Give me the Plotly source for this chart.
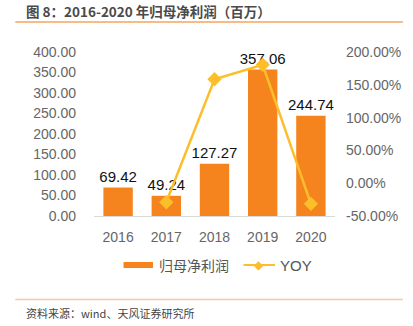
import plotly.graph_objects as go

years = ["2016", "2017", "2018", "2019", "2020"]
profit = [69.42, 49.24, 127.27, 357.06, 244.74]
yoy = [None, -29.07, 158.47, 180.55, -31.46]
profit_labels = ["69.42", "49.24", "127.27", "357.06", "244.74"]
left_ticks = [0, 50, 100, 150, 200, 250, 300, 350, 400]
right_ticks = [-50, 0, 50, 100, 150, 200]

W, H = 413, 326
L, R, T, B = 94, 339, 52, 216

def px(x):
    return (x - L) / (R - L)

def py(y):
    return (B - y) / (B - T)

BAR = "#F5841F"
LINE = "#FCBF2B"
tickfont = dict(family="Liberation Sans, Arial", size=14, color="#666666")

fig = go.Figure()
fig.add_trace(go.Bar(
    x=years, y=profit, marker=dict(color=BAR, line=dict(width=0)), width=0.61,
    text=profit_labels, textposition="outside", cliponaxis=False, constraintext="none",
    textfont=dict(family="Liberation Sans, Arial", size=15, color="#111111"),
    name="归母净利润", yaxis="y"))
fig.add_trace(go.Scatter(
    x=years, y=yoy, mode="lines+markers", yaxis="y2", name="YOY",
    line=dict(color=LINE, width=2.5), cliponaxis=False,
    marker=dict(symbol="diamond", size=11, color=LINE)))

fig.update_layout(
    width=W, height=H, margin=dict(l=L, r=W - R, t=T, b=H - B),
    paper_bgcolor="white", plot_bgcolor="white", showlegend=False,
    bargap=0.39,
    xaxis=dict(showgrid=False, showline=True, linecolor="#D9D9D9", linewidth=1,
               ticks="", tickfont=tickfont, ticklabelstandoff=8),
    yaxis=dict(range=[0, 400], tickvals=left_ticks, tickformat=".2f",
               showgrid=False, zeroline=False, showline=False, tickfont=tickfont,
               ticklabelstandoff=17),
    yaxis2=dict(range=[-50, 200], tickvals=right_ticks, overlaying="y", side="right",
                ticktext=[f"{v:.2f}%" for v in right_ticks],
                showgrid=False, zeroline=False, showline=False, tickfont=tickfont,
                ticklabelstandoff=10),
)

shapes = [
    dict(type="line", xref="paper", yref="paper", x0=px(14), x1=px(408), y0=py(22), y1=py(22),
         line=dict(color="#F7A35C", width=1.5)),
    dict(type="line", xref="paper", yref="paper", x0=px(14), x1=px(408), y0=py(299.5), y1=py(299.5),
         line=dict(color="#F9C7A0", width=1.5)),
    dict(type="rect", xref="paper", yref="paper", x0=px(124), x1=px(154), y0=py(268), y1=py(262),
         fillcolor=BAR, line=dict(width=0)),
    dict(type="line", xref="paper", yref="paper", x0=px(246), x1=px(278), y0=py(265), y1=py(265),
         line=dict(color=LINE, width=2)),
]
fig.update_layout(shapes=shapes)

annotations = [
    dict(text="<b>图 8：2016-2020 年归母净利润（百万）</b>", x=px(23), y=py(11), xanchor="left", yanchor="middle",
         font=dict(family="Noto Sans CJK SC", size=13.5, color="#4a4a4a")),
    dict(text="资料来源：wind、天风证券研究所", x=px(23), y=py(313), xanchor="left", yanchor="middle",
         font=dict(family="Noto Sans CJK SC", size=11, color="#444444")),
    dict(text="归母净利润", x=px(158), y=py(265), xanchor="left", yanchor="middle",
         font=dict(family="Noto Sans CJK SC", size=14, color="#555555")),
    dict(text="YOY", x=px(281), y=py(265), xanchor="left", yanchor="middle",
         font=dict(family="Liberation Sans, Arial", size=15, color="#555555")),
    dict(text="◆", x=px(262), y=py(265), xanchor="center", yanchor="middle", showarrow=False,
         font=dict(family="DejaVu Sans", size=12, color=LINE)),
]
for a in annotations:
    a.setdefault("showarrow", False)
    a["xref"] = "paper"
    a["yref"] = "paper"
fig.update_layout(annotations=annotations)

fig.write_html("out.html")
